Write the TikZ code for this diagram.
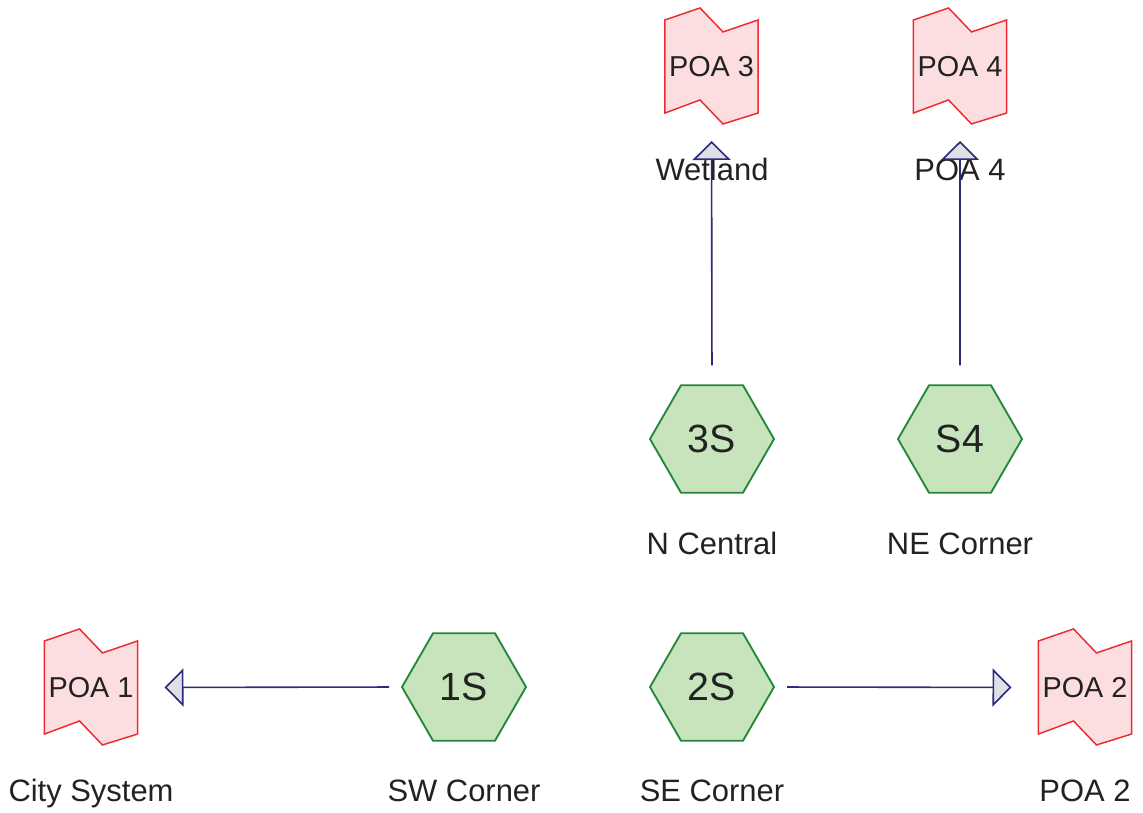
\documentclass[tikz,border=0pt]{standalone}
\usepackage{fontspec}
\setmainfont{Liberation Sans}
\usetikzlibrary{shapes.geometric,arrows.meta}

\definecolor{hexfill}{HTML}{C8E4BC}
\definecolor{hexline}{HTML}{23883C}
\definecolor{poafill}{HTML}{FCDEE1}
\definecolor{poaline}{HTML}{EE2A2E}
\definecolor{flowline}{HTML}{2A2A7E}
\definecolor{tipfill}{HTML}{DEE0E3}
\definecolor{ink}{HTML}{222222}

\tikzset{
  station/.style={regular polygon, regular polygon sides=6, minimum size=93pt,
    inner sep=0pt, outer sep=0pt, draw=hexline, fill=hexfill, line width=1.4pt,
    text=ink, font=\fontsize{29.5}{32}\selectfont},
  outlet/.style={rectangle, minimum width=69.75pt, minimum height=69.75pt,
    inner sep=0pt, outer sep=0pt, text=ink, font=\fontsize{21.6}{24}\selectfont},
  flag/.style={draw=poaline, fill=poafill, line width=1.1pt, line join=miter},
  caption/.style={anchor=base, text=ink, inner sep=0pt, font=\fontsize{23.2}{26}\selectfont},
  flow/.style={draw=flowline, line width=1.2pt,
    -{Triangle[length=14.25pt, width=28.5pt, fill=tipfill, line width=1.2pt]}},
}

% outlet outline, drawn around the centre of an outlet node
\newcommand{\outletflag}[1]{%
  \path[flag, shift={(#1.center)}]
    (-34.9pt,34.9pt) -- (-8.6pt,43.9pt) -- (8.6pt,25.9pt) -- (34.9pt,34.9pt)
    -- (34.9pt,-34.9pt) -- (8.6pt,-43.1pt) -- (-8.6pt,-25.1pt) -- (-34.9pt,-34.9pt)
    -- cycle;}

\begin{document}
\begin{tikzpicture}[x=0.75pt, y=-0.75pt]
  \useasboundingbox (0,0) rectangle (1143,813);

  % stations
  \node[station] (s3) at (712,439) {3S};
  \node[station] (s4) at (960,439) {S4};
  \node[station] (s1) at (464,687) {1S};
  \node[station] (s2) at (712,687) {2S};

  % points of analysis
  \node[outlet] (p3) at (711.5,66.5) {};
  \node[outlet] (p4) at (960,66.5) {};
  \node[outlet] (p1) at (91,687.5) {};
  \node[outlet] (p2) at (1085,687.5) {};
  \outletflag{p3}
  \outletflag{p4}
  \outletflag{p1}
  \outletflag{p2}
  \node[outlet] at (p3) {POA 3};
  \node[outlet] at (p4) {POA 4};
  \node[outlet] at (p1) {POA 1};
  \node[outlet] at (p2) {POA 2};

  % captions
  \node[caption] (c3) at (712,181) {Wetland};
  \node[caption] (c4) at (960,181) {POA 4};
  \node[caption] (cs3) at (712,554) {N Central};
  \node[caption] (cs4) at (960,554) {NE Corner};
  \node[caption] (c1) at (91,801.5) {City System};
  \node[caption] (cs1) at (464,801.5) {SW Corner};
  \node[caption] (cs2) at (712,801.5) {SE Corner};
  \node[caption] (c2) at (1085,801.5) {POA 2};

  % flows from stations to points of analysis
  \draw[flow, shorten <=15pt, shorten >=21pt] (s3.north) -- (p3.south);
  \draw[flow, shorten <=15pt, shorten >=21pt] (s4.north) -- (p4.south);
  \draw[flow, shorten <=9.75pt, shorten >=20.25pt] (s1.west) -- (p1.east);
  \draw[flow, shorten <=9.75pt, shorten >=20.25pt] (s2.east) -- (p2.west);
\end{tikzpicture}
\end{document}
